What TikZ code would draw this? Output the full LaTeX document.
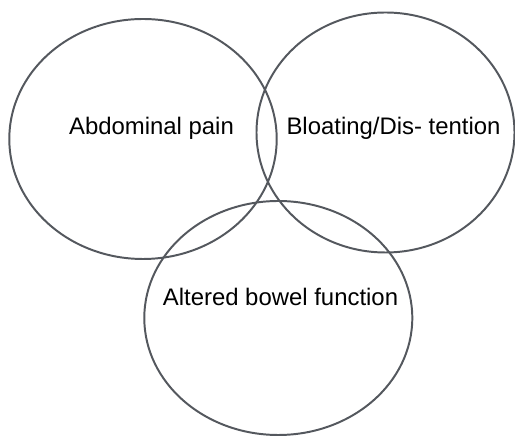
\documentclass[tikz,border=0pt]{standalone}
\usepackage{fontspec}
\setmainfont{Liberation Sans}
\usepackage{tikz}
\usetikzlibrary{positioning, calc}
\definecolor{vennline}{RGB}{84,88,94}

\begin{document}
\begin{tikzpicture}[x=0.025cm, y=-0.025cm]
    \tikzset{
        venn set/.style={
                draw=vennline, line width=1.4pt
            },
        venn label/.style={
                font=\fontsize{17pt}{20pt}\selectfont, text=black, anchor=base, inner sep=0pt
            }
    }
    \useasboundingbox (0, 0) rectangle (515, 438);

    % the three sets
    \coordinate (pain) at (143, 139);
    \coordinate (bloat) at (385.5, 132.5);
    \coordinate (bowel) at (278.3, 318);
    \draw[venn set] (pain) ellipse [x radius=133.7, y radius=120];
    \draw[venn set] (bloat) ellipse [x radius=129, y radius=120];
    \draw[venn set] (bowel) ellipse [x radius=134, y radius=117];

    \node[venn label] (pain label) at (151.5, 135) {Abdominal pain};
    \node[venn label] (bloat label) at (393.5, 135) {Bloating/Dis- tention};
    \node[venn label] (bowel label) at (280.5, 305.5) {Altered bowel function};
\end{tikzpicture}
\end{document}
